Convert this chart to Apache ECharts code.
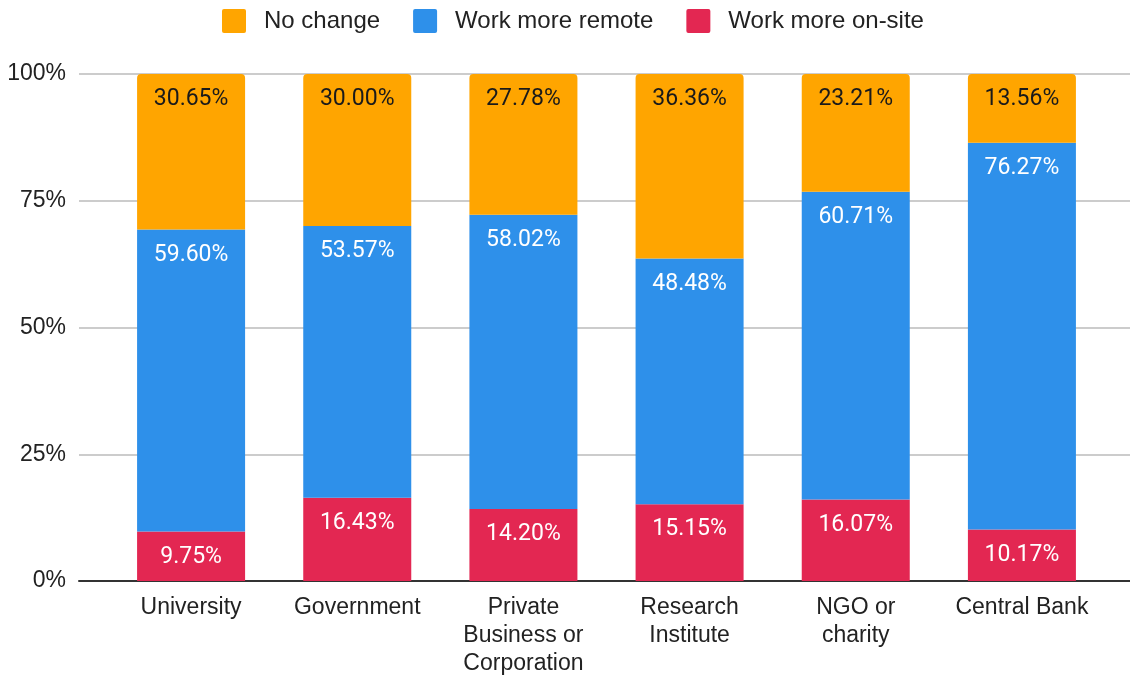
<!DOCTYPE html>
<html><head><meta charset="utf-8">
<script src="https://cdn.jsdelivr.net/npm/echarts@6/dist/echarts.min.js"></script>
<style>html,body{margin:0;padding:0;background:#fff}#c{width:1130px;height:678px}</style>
</head><body><div id="c"></div>
<script>
const categories = ['University', 'Government', 'Private\nBusiness or\nCorporation', 'Research\nInstitute', 'NGO or\ncharity', 'Central Bank'];
const onSite = [9.75, 16.43, 14.20, 15.15, 16.07, 10.17];
const remote = [59.60, 53.57, 58.02, 48.48, 60.71, 76.27];
const noChange = [30.65, 30.00, 27.78, 36.36, 23.21, 13.56];
const yTicks = [0, 25, 50, 75, 100];

const ARIAL = '"Liberation Sans", Arial, sans-serif';
const ROBOTO = 'Roboto, Arial, sans-serif';
const ICON = 'path://M2,0 L22,0 Q24,0 24,2 L24,22 Q24,24 22,24 L2,24 Q0,24 0,22 L0,2 Q0,0 2,0 Z';
const chart = echarts.init(document.getElementById('c'), null, {renderer: 'canvas'});
function lbl(color) {
  return {show: true, position: 'insideTop', distance: 14, color: color, fontSize: 23, fontFamily: ROBOTO,
    formatter: p => p.value.toFixed(2) + '%'};
}
chart.setOption({
  animation: false,
  textStyle: {fontFamily: ARIAL},
  legend: {
    top: 9, left: 222, padding: 0, itemWidth: 24, itemHeight: 24, itemGap: 33,
    textStyle: {fontSize: 24, color: '#222', fontFamily: ARIAL, padding: [0, 0, 0, 13]},
    data: [
      {name: 'No change', icon: ICON},
      {name: 'Work more remote', icon: ICON},
      {name: 'Work more on-site', icon: ICON}
    ]
  },
  grid: [
    {left: 108, right: 25, top: 74, bottom: 97},
    {left: 79, right: 0, top: 74, bottom: 97}
  ],
  xAxis: [
    {type: 'category', gridIndex: 0, data: categories,
      axisLine: {show: false}, axisTick: {show: false},
      axisLabel: {fontSize: 23, color: '#222', lineHeight: 28, margin: 13, fontFamily: ARIAL, interval: 0}},
    {type: 'value', gridIndex: 1, min: 0, max: 1, show: true,
      axisLine: {show: true, lineStyle: {color: '#333', width: 2}},
      axisTick: {show: false}, axisLabel: {show: false}, splitLine: {show: false}}
  ],
  yAxis: [
    {type: 'value', gridIndex: 0, min: 0, max: 100, interval: 25, show: false, splitLine: {show: false}},
    {type: 'value', gridIndex: 1, min: yTicks[0], max: yTicks[yTicks.length - 1], interval: 25,
      axisLine: {show: false}, axisTick: {show: false},
      axisLabel: {fontSize: 23, color: '#222', margin: 13, fontFamily: ARIAL, formatter: '{value}%'},
      splitLine: {lineStyle: {color: '#ccc', width: 2}}}
  ],
  series: [
    {name: 'Work more on-site', type: 'bar', stack: 's', xAxisIndex: 0, yAxisIndex: 0, data: onSite,
      barWidth: '65%', itemStyle: {color: '#E32752'}, label: lbl('#fff'), z: 3},
    {name: 'Work more remote', type: 'bar', stack: 's', xAxisIndex: 0, yAxisIndex: 0, data: remote,
      barWidth: '65%', itemStyle: {color: '#2E90EA'}, label: lbl('#fff'), z: 3},
    {name: 'No change', type: 'bar', stack: 's', xAxisIndex: 0, yAxisIndex: 0, data: noChange,
      barWidth: '65%', itemStyle: {color: '#FFA500', borderRadius: [4, 4, 0, 0]}, label: lbl('#1a1a1a'), z: 3}
  ]
});
</script></body></html>
